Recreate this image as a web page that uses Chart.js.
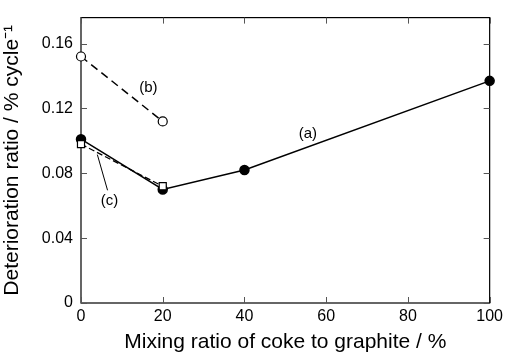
<!DOCTYPE html>
<html>
<head>
<meta charset="utf-8">
<script src="https://cdn.jsdelivr.net/npm/chart.js@4/dist/chart.umd.min.js"></script>
<style>
  html, body { margin: 0; padding: 0; background: #fff; }
  #wrap { width: 507px; height: 355px; }
</style>
</head>
<body>
<div id="wrap"><canvas id="cv"></canvas></div>
<script>
// data
const ratioA = [0, 20, 40, 100];
const valsA = [0.101, 0.070, 0.082, 0.137];
const ratioB = [0, 20];
const valsB = [0.152, 0.112];
const ratioC = [0, 20];
const valsC = [0.098, 0.072];
const xTicks = [0, 20, 40, 60, 80, 100];
const yTicks = [0, 0.04, 0.08, 0.12, 0.16];

const FONT = "'Liberation Sans', Arial, sans-serif";

function pts(xs, ys) {
    return xs.map((x, i) => ({ x: x, y: ys[i] }));
}

// box + inward ticks + series labels
const framePlugin = {
    id: "frame",
    beforeDatasetsDraw(chart) {
        const ctx = chart.ctx;
        const a = chart.chartArea;
        const sx = chart.scales.x, sy = chart.scales.y;
        ctx.save();
        ctx.strokeStyle = "#000";
        ctx.lineWidth = 1.2;
        ctx.strokeRect(a.left, a.top, a.right - a.left, a.bottom - a.top);
        ctx.strokeStyle = "#555";
        ctx.lineWidth = 1;
        const t = 6;
        xTicks.forEach((v) => {
            const px = Math.round(sx.getPixelForValue(v)) + 0.5;
            ctx.beginPath();
            ctx.moveTo(px, a.bottom); ctx.lineTo(px, a.bottom - t);
            ctx.moveTo(px, a.top); ctx.lineTo(px, a.top + t);
            ctx.stroke();
        });
        yTicks.forEach((v) => {
            const py = Math.round(sy.getPixelForValue(v)) + 0.5;
            ctx.beginPath();
            ctx.moveTo(a.left, py); ctx.lineTo(a.left + t, py);
            ctx.moveTo(a.right, py); ctx.lineTo(a.right - t, py);
            ctx.stroke();
        });

        ctx.fillStyle = "#000";
        ctx.font = "15px " + FONT;
        ctx.textAlign = "center";
        ctx.textBaseline = "middle";
        ctx.fillText("(a)", sx.getPixelForValue(55.5), sy.getPixelForValue(0.1045));
        ctx.fillText("(b)", sx.getPixelForValue(16.5), sy.getPixelForValue(0.1325));
        ctx.fillText("(c)", sx.getPixelForValue(7), sy.getPixelForValue(0.063));

        // leader line for (c)
        ctx.strokeStyle = "#000";
        ctx.lineWidth = 1;
        ctx.beginPath();
        ctx.moveTo(sx.getPixelForValue(4), sy.getPixelForValue(0.0915));
        ctx.lineTo(sx.getPixelForValue(6.5), sy.getPixelForValue(0.0695));
        ctx.stroke();
        ctx.restore();
    }
};

new Chart(document.getElementById("cv"), {
    type: "scatter",
    data: {
        datasets: [
            {
                label: "(c)",
                data: pts(ratioC, valsC),
                showLine: true,
                clip: false,
                borderColor: "#000",
                borderWidth: 1.3,
                borderDash: [6, 3],
                pointStyle: "rect",
                pointRadius: 5,
                pointBackgroundColor: "#fff",
                pointBorderColor: "#000",
                pointBorderWidth: 1.2,
            },
            {
                label: "(a)",
                data: pts(ratioA, valsA),
                showLine: true,
                clip: false,
                borderColor: "#000",
                borderWidth: 1.5,
                pointRadius: 4.5,
                pointBackgroundColor: "#000",
                pointBorderColor: "#000",
            },
            {
                label: "(b)",
                data: pts(ratioB, valsB),
                showLine: true,
                clip: false,
                borderColor: "#000",
                borderWidth: 1.5,
                borderDash: [8, 5],
                pointRadius: 4.5,
                pointBackgroundColor: "#fff",
                pointBorderColor: "#000",
                pointBorderWidth: 1.2,
            },
        ],
    },
    options: {
        responsive: true,
        maintainAspectRatio: false,
        animation: false,
        layout: { padding: { top: 13, right: 14, left: 0, bottom: 0 } },
        plugins: {
            legend: { display: false },
            tooltip: { enabled: false },
        },
        scales: {
            x: {
                type: "linear",
                min: 0,
                max: 100,
                afterBuildTicks: (s) => { s.ticks = xTicks.map((v) => ({ value: v })); },
                afterFit: (s) => { s.height = 52; },
                grid: { display: false, drawTicks: false },
                border: { display: false },
                ticks: {
                    color: "#000",
                    padding: 4,
                    font: { family: FONT, size: 16 },
                },
                title: {
                    display: true,
                    text: "Mixing ratio of coke to graphite / %",
                    color: "#000",
                    font: { family: FONT, size: 21 },
                    padding: { top: 4, bottom: 0 },
                },
            },
            y: {
                type: "linear",
                min: 0,
                max: 0.176,
                afterBuildTicks: (s) => { s.ticks = yTicks.map((v) => ({ value: v })); },
                afterFit: (s) => { s.width = 81; },
                grid: { display: false, drawTicks: false },
                border: { display: false },
                ticks: {
                    color: "#000",
                    padding: 8,
                    font: { family: FONT, size: 16 },
                    callback: (v) => (v === 0 ? "0" : v.toFixed(2)),
                },
                title: {
                    display: true,
                    text: "Deterioration ratio / % cycle⁻¹",
                    color: "#000",
                    font: { family: FONT, size: 21 },
                    padding: { top: 0, bottom: 2 },
                },
            },
        },
    },
    plugins: [framePlugin],
});
</script>
</body>
</html>
